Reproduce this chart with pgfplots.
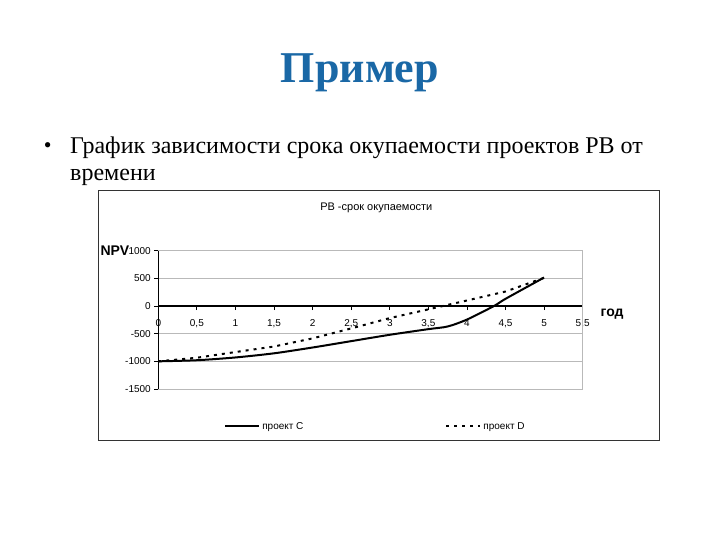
\documentclass[border=0pt]{standalone}
\usepackage{pgfplots}
\pgfplotsset{compat=1.18}
\usepackage{fontspec}
\setmainfont{Liberation Serif}
\newfontfamily\arial{Liberation Sans}
\definecolor{titleblue}{RGB}{26,104,166}
\definecolor{gridgray}{RGB}{185,185,185}
\begin{document}
\begin{tikzpicture}[x=1pt,y=1pt]
\path[use as bounding box, fill=white] (0,0) rectangle (720,540);
% slide title and bullet
\node[anchor=base, inner sep=0pt, text=titleblue, font=\fontsize{44}{48}\selectfont\bfseries] at (360,457.7) {Пример};
\node[anchor=base, inner sep=0pt, font=\fontsize{22}{27}\selectfont] at (47.7,387.5) {•};
\node[anchor=base west, inner sep=0pt, font=\fontsize{24}{27}\selectfont] at (70,386.7) {График зависимости срока окупаемости проектов РВ от};
\node[anchor=base west, inner sep=0pt, font=\fontsize{24}{27}\selectfont] at (70,359.5) {времени};
% chart frame
\draw[black!80, line width=0.9pt] (98.3,99.3) rectangle (659.6,349.3);
\node[inner sep=0pt, font=\arial\fontsize{11}{13}\selectfont] at (376.3,331.7) {РВ -срок окупаемости};
\node[anchor=east, inner sep=0pt, font=\arial\fontsize{14}{16}\selectfont\bfseries] at (129.5,289.7) {NPV};
\node[anchor=west, inner sep=0pt, font=\arial\fontsize{14}{16}\selectfont\bfseries] at (600.5,226) {год};
\begin{axis}[
  at={(158.3pt,151pt)}, anchor=south west,
  scale only axis, width=424.4pt, height=138.3pt,
  xmin=0, xmax=5.5, ymin=-1500, ymax=1000,
  axis x line=middle, axis y line=left,
  axis line style={-},
  x axis line style={line width=1.2pt, black},
  y axis line style={line width=1pt, black},
  hide obscured x ticks=false,
  xtick={0,0.5,...,5.5}, ytick={-1500,-1000,...,1000},
  tick align=outside, major tick length=4pt,
  tick style={black, line width=0.8pt},
  ymajorgrids, grid style={gridgray, line width=0.9pt},
  /pgf/number format/assume math mode=true,
  /pgf/number format/use comma,
  /pgf/number format/1000 sep={},
  ticklabel style={font=\arial\fontsize{10}{12}\selectfont},
  xticklabel style={anchor=north, yshift=-6pt},
  clip=false,
  legend columns=2,
  legend style={at={(0.155,-0.271)}, anchor=west, draw=none, fill=none,
    inner sep=0pt, font=\arial\fontsize{10}{12}\selectfont,
    /tikz/every even column/.append style={column sep=140pt}},
  legend cell align=left,
  legend image code/.code={\draw[#1, line width=2pt] (0pt,0pt) -- (34pt,0pt);},
]
\draw[gridgray, line width=0.9pt] (rel axis cs:1,0) -- (rel axis cs:1,1);
\addplot[black, line width=2pt, smooth, tension=0.45] coordinates {
 (0,-1000) (0.5,-980) (1,-930) (1.5,-855) (2,-750) (2.5,-635) (3,-520)
 (3.5,-418) (3.75,-370) (4,-245) (4.35,0) (4.5,130) (5,515)
};
\addlegendentry{проект C}
\addplot[black, line width=2pt, dash pattern=on 3pt off 5pt] coordinates {
 (0,-1000) (0.5,-935) (1,-832) (1.5,-732) (2,-585) (2.5,-405) (3,-218)
 (3.5,-60) (4,100) (4.5,262) (5,510)
};
\addlegendentry{проект D}
\end{axis}
\end{tikzpicture}
\end{document}
